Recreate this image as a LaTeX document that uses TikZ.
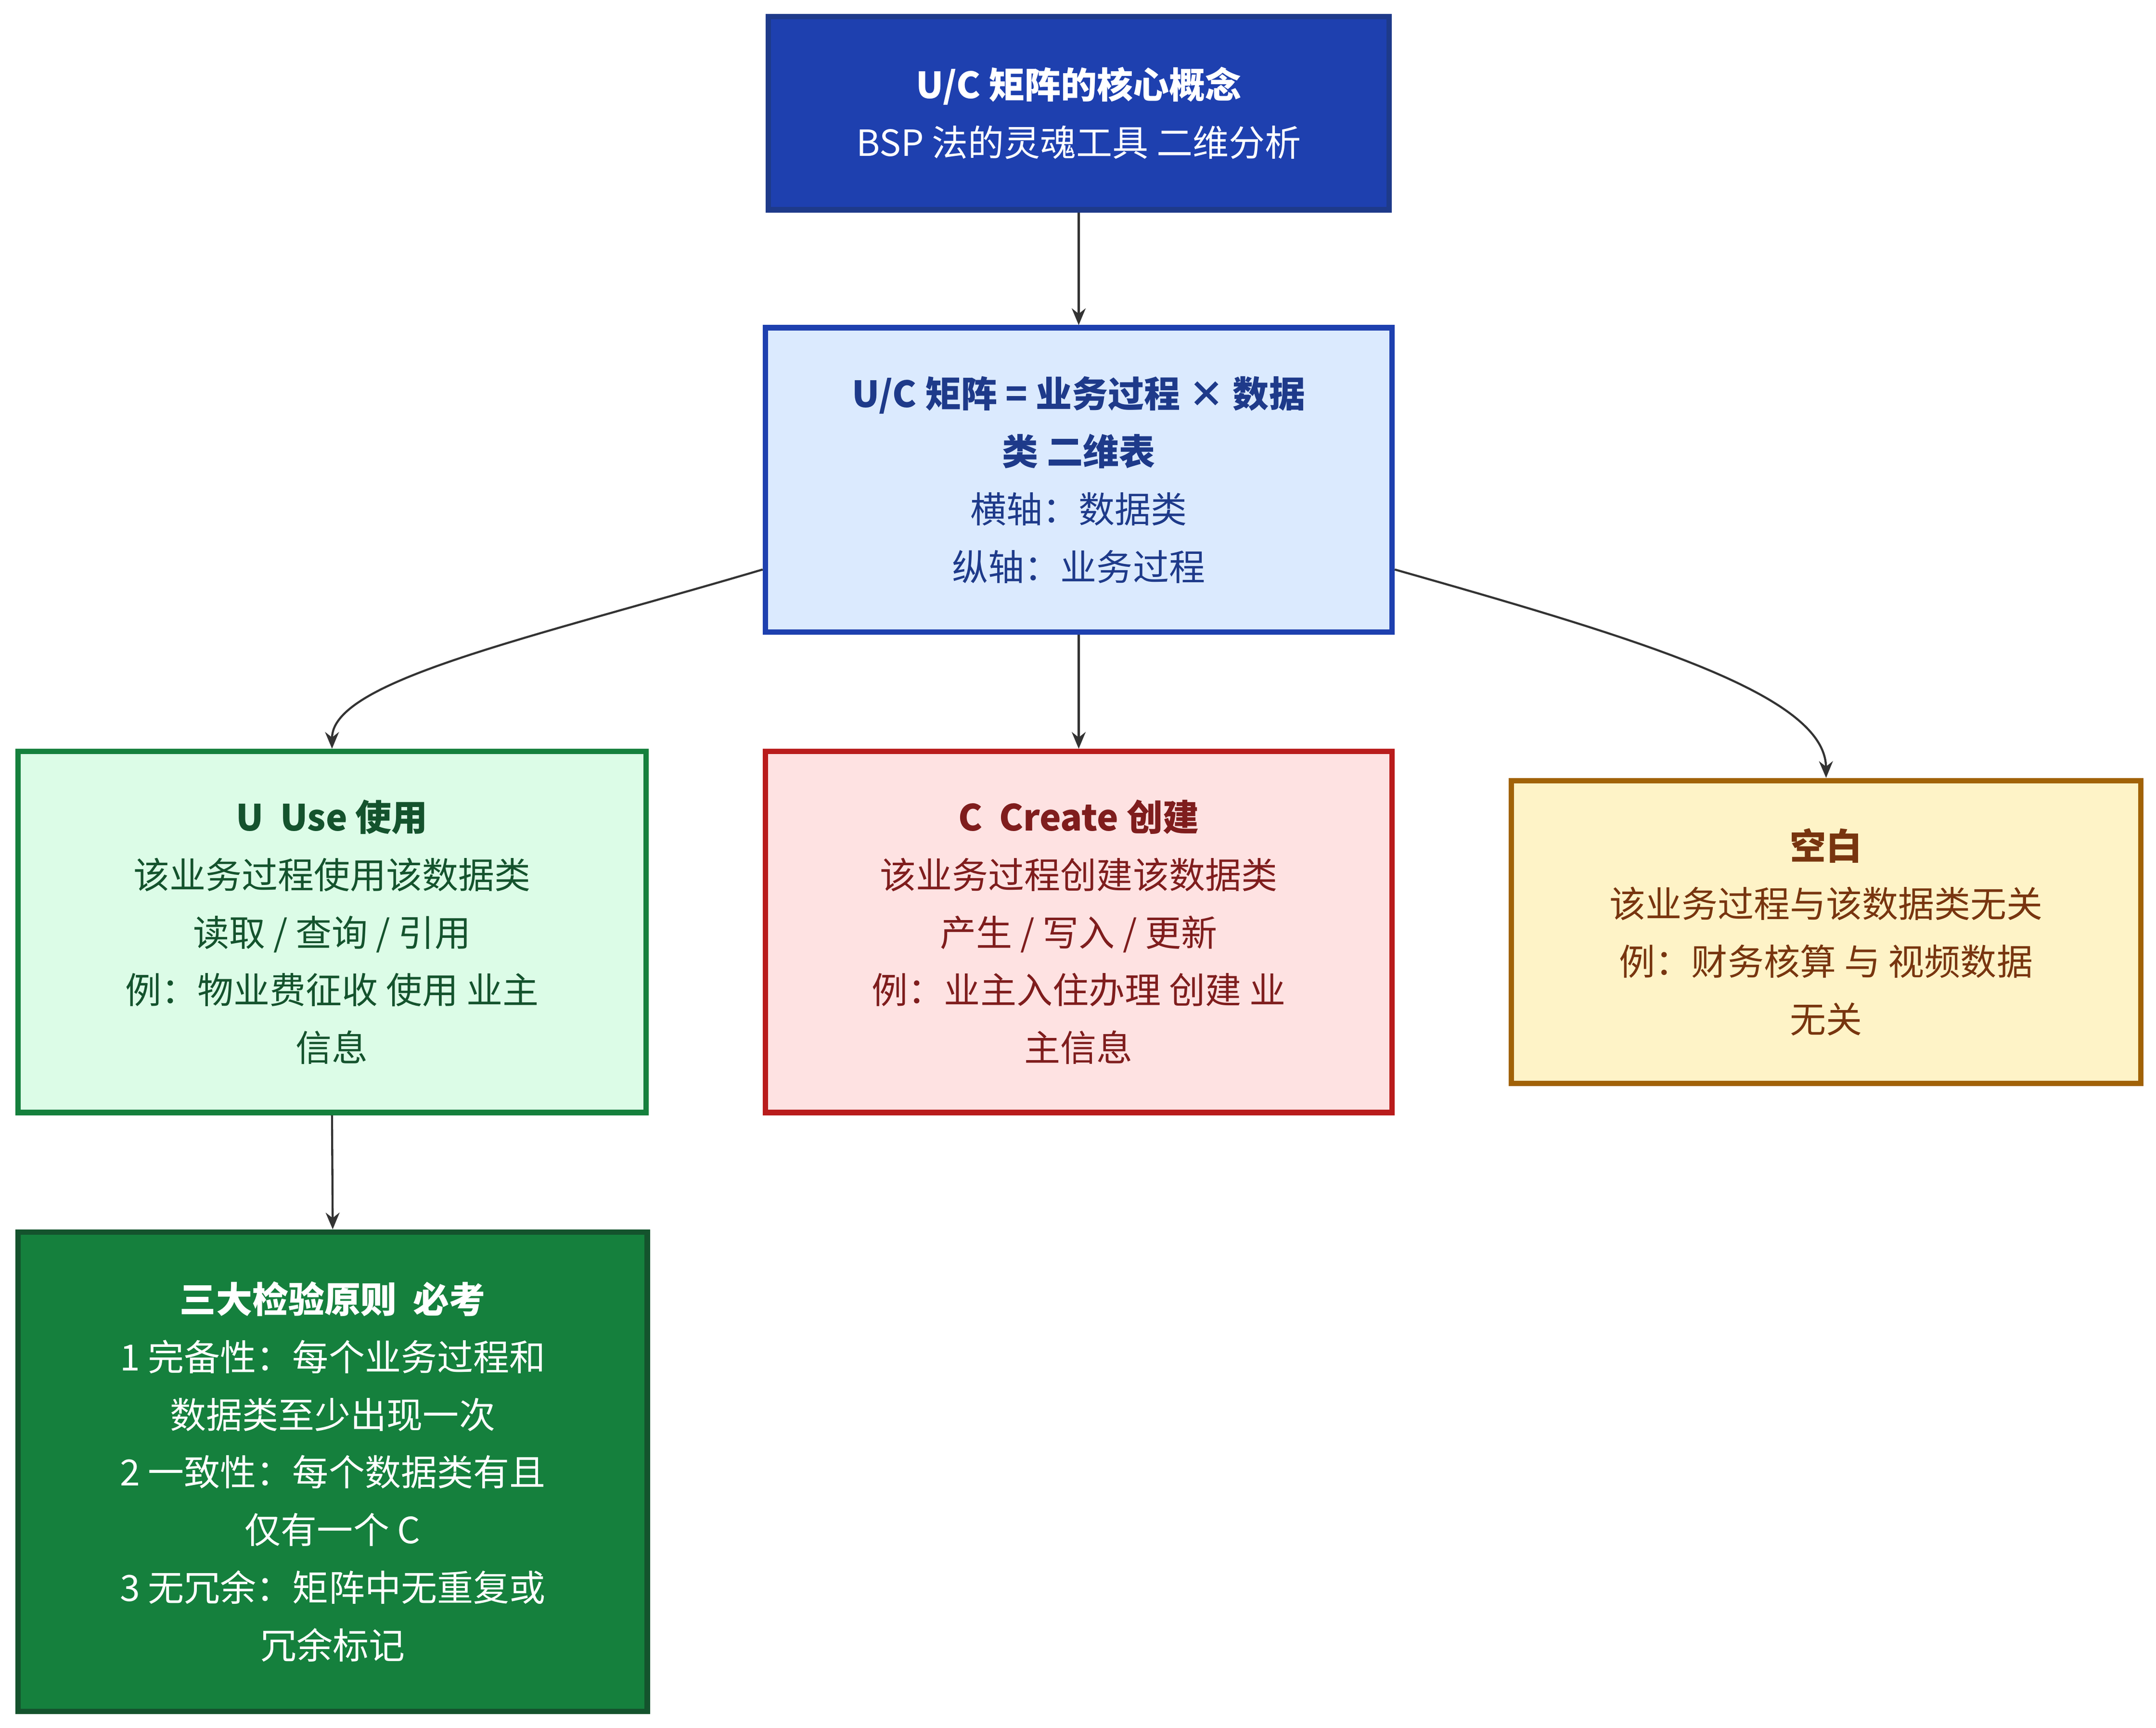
\documentclass[tikz,border=0pt]{standalone}
\usepackage{fontspec}
\setmainfont{Noto Sans CJK SC}
\usetikzlibrary{arrows.meta}
\definecolor{c1f}{HTML}{1E40AF}\definecolor{c1d}{HTML}{1E3A8A}
\definecolor{c2f}{HTML}{DBEAFE}
\definecolor{ugf}{HTML}{DCFCE7}\definecolor{ugd}{HTML}{15803D}\definecolor{ugt}{HTML}{14532D}
\definecolor{crf}{HTML}{FEE2E2}\definecolor{crd}{HTML}{B91C1C}\definecolor{crt}{HTML}{7F1D1D}
\definecolor{ybf}{HTML}{FEF3C7}\definecolor{ybd}{HTML}{A16207}\definecolor{ybt}{HTML}{78350F}
\definecolor{edge}{HTML}{333333}
\begin{document}
\begin{tikzpicture}[x=1pt,y=-1pt,
  box/.style={draw,line width=4pt,inner sep=0pt,align=center,
    font=\fontsize{26}{41.5}\selectfont},
  arr/.style={draw=edge,line width=1.5pt,-{Stealth[length=12pt,width=10pt]}}]
\useasboundingbox (0,0) rectangle (1552,1244);
\node[box,fill=c1f,draw=c1d,text=white,minimum width=447pt,minimum height=139pt] (top) at (776.5,81.5)
  {\textbf{U/C 矩阵的核心概念}\\BSP 法的灵魂工具 二维分析};
\node[box,fill=c2f,draw=c1f,text=c1d,minimum width=451pt,minimum height=219pt] (mat) at (776.5,345.5)
  {\textbf{U/C 矩阵 = 业务过程 × 数据}\\\textbf{类 二维表}\\横轴：数据类\\纵轴：业务过程};
\node[box,fill=ugf,draw=ugd,text=ugt,minimum width=452pt,minimum height=260pt] (u) at (239,671)
  {\textbf{U\ \ Use 使用}\\该业务过程使用该数据类\\读取 / 查询 / 引用\\例：物业费征收 使用 业主\\信息};
\node[box,fill=crf,draw=crd,text=crt,minimum width=451pt,minimum height=260pt] (c) at (776.5,671)
  {\textbf{C\ \ Create 创建}\\该业务过程创建该数据类\\产生 / 写入 / 更新\\例：业主入住办理 创建 业\\主信息};
\node[box,fill=ybf,draw=ybd,text=ybt,minimum width=453pt,minimum height=218pt] (b) at (1314.5,671)
  {\textbf{空白}\\该业务过程与该数据类无关\\例：财务核算 与 视频数据\\无关};
\node[box,fill=ugd,draw=ugt,text=white,minimum width=453pt,minimum height=345pt] (p) at (239.5,1059.5)
  {\textbf{三大检验原则\ \ 必考}\\1 完备性：每个业务过程和\\数据类至少出现一次\\2 一致性：每个数据类有且\\仅有一个 C\\3 无冗余：矩阵中无重复或\\冗余标记};
\draw[arr] (top.south) -- (mat.north);
\draw[arr] (mat.south) -- (c.north);
\draw[arr] (mat.west|-0,410) .. controls (380,460) and (239,490) .. (u.north);
\draw[arr] (mat.east|-0,410) .. controls (1180,460) and (1314,500) .. (b.north);
\draw[arr] (u.south) -- (p.north);
\end{tikzpicture}
\end{document}
